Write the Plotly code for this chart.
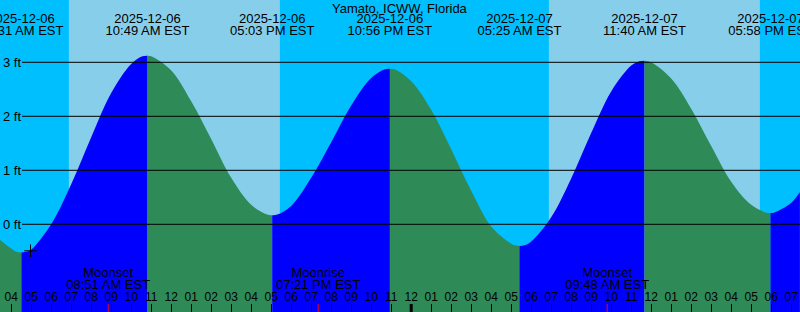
import plotly.graph_objects as go
import pandas as pd

# ---------------- data ----------------
# tide heights (ft) (roughly hourly, plus readings near each turn)
curve_times = [
    "2025-12-06 03:26", "2025-12-06 04:00", "2025-12-06 04:16", "2025-12-06 04:46",
    "2025-12-06 05:00", "2025-12-06 06:00", "2025-12-06 07:00", "2025-12-06 08:00",
    "2025-12-06 09:00", "2025-12-06 10:00", "2025-12-06 10:34", "2025-12-06 11:00",
    "2025-12-06 12:00", "2025-12-06 13:00", "2025-12-06 14:00", "2025-12-06 15:00",
    "2025-12-06 16:00", "2025-12-06 16:48", "2025-12-06 17:18", "2025-12-06 18:00",
    "2025-12-06 19:00", "2025-12-06 20:00", "2025-12-06 21:00", "2025-12-06 22:00",
    "2025-12-06 22:41", "2025-12-06 23:10", "2025-12-07 00:00", "2025-12-07 01:00",
    "2025-12-07 02:00", "2025-12-07 03:00", "2025-12-07 04:00", "2025-12-07 05:00",
    "2025-12-07 05:10", "2025-12-07 05:40", "2025-12-07 06:00", "2025-12-07 07:00",
    "2025-12-07 08:00", "2025-12-07 09:00", "2025-12-07 10:00", "2025-12-07 11:00",
    "2025-12-07 11:25", "2025-12-07 12:00", "2025-12-07 13:00", "2025-12-07 14:00",
    "2025-12-07 15:00", "2025-12-07 16:00", "2025-12-07 17:00", "2025-12-07 17:43",
    "2025-12-07 18:10", "2025-12-07 19:00", "2025-12-07 19:26",
]
curve_heights = [
    -0.29, -0.45, -0.51, -0.51,
    -0.47, 0.00, 0.74, 1.61,
    2.43, 2.97, 3.11, 3.11,
    2.85, 2.28, 1.58, 0.86,
    0.36, 0.18, 0.18, 0.34,
    0.86, 1.52, 2.20, 2.71,
    2.87, 2.87, 2.65, 2.12,
    1.39, 0.62, -0.04, -0.36,
    -0.39, -0.39, -0.32, 0.13,
    0.85, 1.69, 2.46, 2.94,
    3.02, 3.00, 2.70, 2.14,
    1.45, 0.79, 0.36, 0.22,
    0.22, 0.40, 0.60,
]

# high / low tides
extreme_times = ["2025-12-06 04:31", "2025-12-06 10:49", "2025-12-06 17:03",
                 "2025-12-06 22:56", "2025-12-07 05:25", "2025-12-07 11:40",
                 "2025-12-07 17:58"]
extreme_heights = [-0.52, 3.12, 0.17, 2.88, -0.40, 3.03, 0.21]

# daylight
sunrise_times = ["2025-12-06 06:53", "2025-12-07 06:53"]
sunset_times = ["2025-12-06 17:26", "2025-12-07 17:26"]

# moon events
moon_times = ["2025-12-06 08:51", "2025-12-06 19:21", "2025-12-07 09:48", "2025-12-07 20:32"]
moon_events = ["Moonset", "Moonrise", "Moonset", "Moonrise"]

# current-time marker
now_time = ["2025-12-06 04:58"]
now_height = [-0.49]

# hour ticks
hour_ticks = list(pd.date_range("2025-12-06 04:00", "2025-12-07 19:00", freq="h"))
hour_labels = [t.strftime("%I") for t in hour_ticks]

level_values = [0, 1, 2, 3]
level_labels = ["0 ft", "1 ft", "2 ft", "3 ft"]

title_text = "Yamato, ICWW, Florida"
x_range = ["2025-12-06 03:26:24", "2025-12-07 19:26:24"]
y_range = [-1.624, 4.154]

# ---------------- styling ----------------
DAY = "#87CEEB"      # SkyBlue
NIGHT = "#00BFFF"    # DeepSkyBlue
FLOOD = "#0000FF"    # Blue
EBB = "#2E8B57"      # SeaGreen
FONT = "Liberation Sans, Arial, sans-serif"
W, H = 800, 312

fig = go.Figure()

# merge readings and extremes
df = pd.DataFrame({"t": pd.to_datetime(curve_times + extreme_times),
                   "h": curve_heights + extreme_heights})
df = df.sort_values("t").reset_index(drop=True)
bounds = [df["t"].iloc[0]] + list(pd.to_datetime(extreme_times)) + [df["t"].iloc[-1]]

base = y_range[0] - 1
for a, b in zip(bounds[:-1], bounds[1:]):
    seg = df[(df["t"] >= a) & (df["t"] <= b)]
    rising = seg["h"].iloc[-1] > seg["h"].iloc[0]
    col = FLOOD if rising else EBB
    fig.add_trace(go.Scatter(x=[a, b], y=[base, base], mode="lines",
                             line=dict(width=0), hoverinfo="skip", showlegend=False))
    fig.add_trace(go.Scatter(x=seg["t"], y=seg["h"], mode="lines",
                             line=dict(width=0, shape="spline", smoothing=1.0, color=col),
                             fill="tonexty", fillcolor=col,
                             hoverinfo="skip", showlegend=False))

# text labels on a pixel-valued overlay axis (y2: 0 at top, 312 at bottom)
ext_dt = pd.to_datetime(extreme_times)
fig.add_trace(go.Scatter(x=ext_dt, y=[19.5] * len(ext_dt), yaxis="y2", mode="text",
                         text=[t.strftime("%Y-%m-%d") for t in ext_dt],
                         textfont=dict(family=FONT, size=13, color="black"),
                         cliponaxis=False, hoverinfo="skip", showlegend=False))
fig.add_trace(go.Scatter(x=ext_dt, y=[31.3] * len(ext_dt), yaxis="y2", mode="text",
                         text=[t.strftime("%I:%M %p EST") for t in ext_dt],
                         textfont=dict(family=FONT, size=13, color="black"),
                         cliponaxis=False, hoverinfo="skip", showlegend=False))
moon_dt = pd.to_datetime(moon_times)
fig.add_trace(go.Scatter(x=moon_dt, y=[274] * len(moon_dt), yaxis="y2", mode="text",
                         text=moon_events,
                         textfont=dict(family=FONT, size=13, color="black"),
                         cliponaxis=False, hoverinfo="skip", showlegend=False))
fig.add_trace(go.Scatter(x=moon_dt, y=[285.3] * len(moon_dt), yaxis="y2", mode="text",
                         text=[t.strftime("%I:%M %p EST") for t in moon_dt],
                         textfont=dict(family=FONT, size=13, color="black"),
                         cliponaxis=False, hoverinfo="skip", showlegend=False))
fig.add_trace(go.Scatter(x=hour_ticks, y=[298] * len(hour_ticks), yaxis="y2", mode="text",
                         text=hour_labels,
                         textfont=dict(family=FONT, size=12, color="black"),
                         cliponaxis=False, hoverinfo="skip", showlegend=False))

# current time marker
fig.add_trace(go.Scatter(x=pd.to_datetime(now_time), y=now_height, mode="markers",
                         marker=dict(symbol="cross-thin", size=9,
                                     line=dict(color="black", width=1)),
                         hoverinfo="skip", showlegend=False))

shapes = []
for sr, ss in zip(sunrise_times, sunset_times):
    shapes.append(dict(type="rect", xref="x", yref="paper", x0=sr, x1=ss, y0=0, y1=1,
                       fillcolor=DAY, line=dict(width=0), layer="below"))
for v in level_values:
    shapes.append(dict(type="line", xref="paper", yref="y", x0=22 / W, x1=1, y0=v, y1=v,
                       line=dict(color="black", width=1), layer="above"))
tick_frac = 8 / H
for mt in moon_dt:
    shapes.append(dict(type="line", xref="x", yref="paper", x0=mt, x1=mt, y0=0, y1=tick_frac,
                       line=dict(color="red", width=1), layer="above"))
for t in hour_ticks:
    if t.hour == 0:
        shapes.append(dict(type="line", xref="x", yref="paper", x0=t, x1=t, y0=0, y1=tick_frac,
                           line=dict(color="black", width=3), layer="above"))

annotations = [dict(text=title_text, xref="paper", yref="paper", x=0.5, y=1 - 8 / H,
                    xanchor="center", yanchor="middle", showarrow=False,
                    font=dict(family=FONT, size=13, color="black"))]
for v, lab in zip(level_values, level_labels):
    annotations.append(dict(text=lab, xref="paper", yref="y", x=0, y=v, xshift=1,
                            xanchor="left", yanchor="middle", showarrow=False,
                            font=dict(family=FONT, size=13, color="black")))

fig.update_layout(
    width=W, height=H, margin=dict(l=0, r=0, t=0, b=0, pad=0),
    paper_bgcolor=NIGHT, plot_bgcolor=NIGHT,
    showlegend=False, shapes=shapes, annotations=annotations,
    xaxis=dict(type="date", range=x_range, showgrid=False, zeroline=False,
               showline=False, tickvals=hour_ticks, ticks="inside", ticklen=8,
               tickwidth=1, tickcolor="black", showticklabels=False, fixedrange=True),
    yaxis=dict(range=y_range, showgrid=False, zeroline=False, showticklabels=False,
               ticks="", fixedrange=True),
    yaxis2=dict(range=[H, 0], overlaying="y", showgrid=False, zeroline=False,
                showticklabels=False, ticks="", visible=False),
)

fig.write_html("out.html")
